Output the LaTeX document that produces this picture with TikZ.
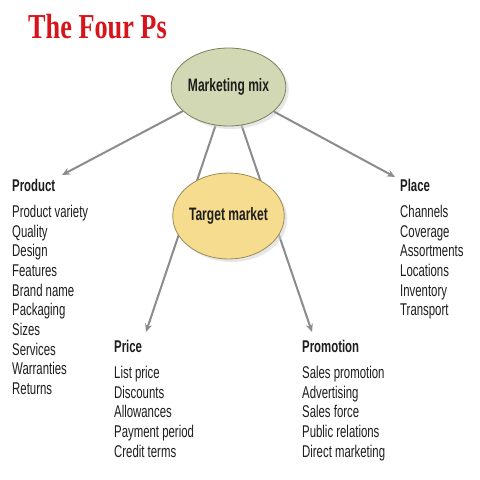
\documentclass[tikz,border=0pt]{standalone}
\usepackage{fontspec}
\setmainfont{Liberation Sans}[FakeStretch=0.67]
\newfontfamily\titlefont{Liberation Serif}[FakeStretch=0.75]
\usepackage{tikz}
\usetikzlibrary{positioning,arrows.meta,shapes.geometric,shadows,backgrounds}
\definecolor{palRed}{HTML}{D7141A}
\definecolor{palMix}{HTML}{D3D8B4}
\definecolor{palMixDk}{HTML}{7E7E5C}
\definecolor{palTarget}{HTML}{F6DC8E}
\definecolor{palTargetDk}{HTML}{9C8A58}
\definecolor{palArrow}{HTML}{8C8C8C}
\definecolor{palText}{HTML}{1E1E1E}
\tikzset{
  ovalnode/.style={ellipse, draw, line width=0.8pt, font=\fontsize{18}{20}\selectfont\bfseries,
                   text=palText, inner sep=0pt,
                   drop shadow={shadow xshift=3pt, shadow yshift=-3pt, fill=black!18}},
  headtext/.style={font=\fontsize{17}{19}\selectfont\bfseries, text=palText,
                   inner sep=0pt, anchor=base west},
  itemlist/.style={font=\fontsize{17}{19.7}\selectfont, text=palText, align=left,
                   inner sep=0pt},
  mixarrow/.style={-{Stealth[length=8pt, width=7pt]}, line width=2pt, palArrow},
}
\begin{document}
\begin{tikzpicture}[x=1pt, y=-1pt]
\useasboundingbox (0,0) rectangle (480,480);

%% Title
\node[anchor=base west, inner sep=0pt, text=palRed,
      font=\titlefont\fontsize{35}{36}\selectfont\bfseries] (title) at (28,38) {The Four Ps};

%% Ovals
\node[ovalnode, fill=palMix, draw=palMixDk, minimum width=109pt, minimum height=78pt]
  (mix) at (228.5,87) {Marketing mix};
\node[ovalnode, fill=palTarget, draw=palTargetDk, minimum width=109pt, minimum height=86pt]
  (target) at (228.5,216) {Target market};

%% Product
\node[headtext] (product) at (12,191) {Product};
\node[itemlist, below right=13.5pt and 0pt of product.south west] (productlist)
  {Product variety\\Quality\\Design\\Features\\Brand name\\Packaging\\Sizes\\Services\\Warranties\\Returns};

%% Place
\node[headtext] (place) at (400,191) {Place};
\node[itemlist, below right=13.5pt and 0pt of place.south west] (placelist)
  {Channels\\Coverage\\Assortments\\Locations\\Inventory\\Transport};

%% Price
\node[headtext] (price) at (114,352) {Price};
\node[itemlist, below right=13.5pt and 0pt of price.south west] (pricelist)
  {List price\\Discounts\\Allowances\\Payment period\\Credit terms};

%% Promotion
\node[headtext] (promo) at (302,352) {Promotion};
\node[itemlist, below right=13.5pt and 0pt of promo.south west] (promolist)
  {Sales promotion\\Advertising\\Sales force\\Public relations\\Direct marketing};

%% Arrow tips
\coordinate (productTip) at (62,175);
\coordinate (placeTip) at (395,177);
\coordinate (priceTip) at (146,332);
\coordinate (promoTip) at (312,332);

%% Arrows
\draw[mixarrow] (mix) -- (productTip);
\draw[mixarrow] (mix) -- (placeTip);
\begin{scope}[on background layer]
  \fill[white] (0,0) rectangle (480,480);
  \draw[mixarrow] (mix) -- (priceTip);
  \draw[mixarrow] (mix) -- (promoTip);
\end{scope}
\end{tikzpicture}
\end{document}
